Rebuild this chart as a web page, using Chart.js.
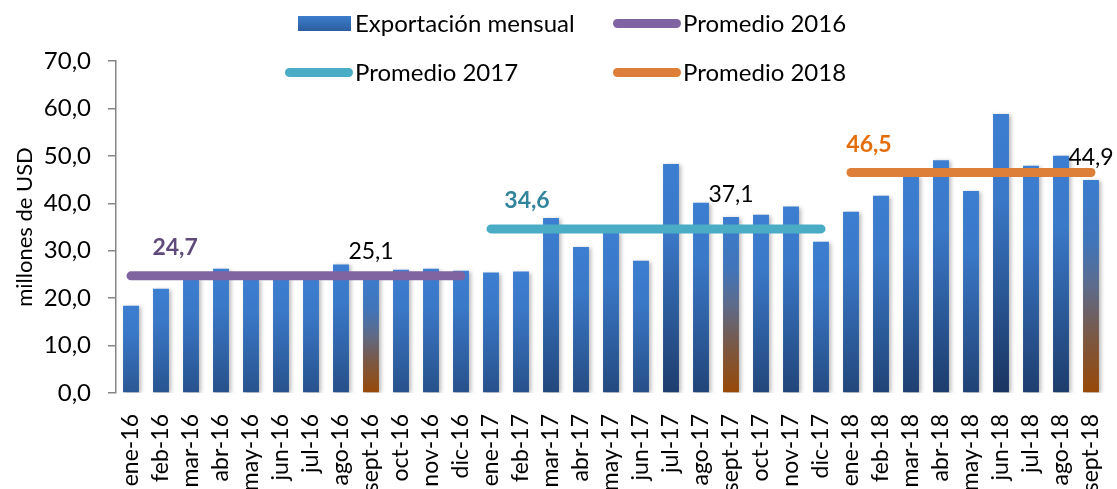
<!DOCTYPE html>
<html>
<head>
<meta charset="utf-8">
<script src="https://cdn.jsdelivr.net/npm/chart.js@4.4.1/dist/chart.umd.min.js"></script>
<style>
    body { margin: 0; background: #fff; }
    #wrap { position: relative; width: 1117px; height: 489px; font-family: Lato, sans-serif; }
    .item { position: absolute; display: flex; align-items: center; font-size: 24px; color: #000; line-height: 28px; height: 28px; white-space: nowrap; }
    .box { display: inline-block; width: 53px; height: 15px; margin-right: 4px; background: linear-gradient(#3c7dcd, #2c5d9f); }
    .ln { display: inline-block; width: 68px; height: 9px; border-radius: 5px; margin-right: 2px; }
</style>
</head>
<body>
<div id="wrap">
    <canvas id="chart" width="1117" height="489"></canvas>
    <div class="item" style="left:298px;top:9px"><span class="box"></span>Exportación mensual</div>
    <div class="item" style="left:613px;top:9px"><span class="ln" style="background:#8064a2"></span>Promedio 2016</div>
    <div class="item" style="left:285px;top:58px"><span class="ln" style="background:#4bacc6"></span>Promedio 2017</div>
    <div class="item" style="left:613px;top:58px"><span class="ln" style="background:#dd7f38"></span>Promedio 2018</div>
</div>
<script>
const months = [
    'ene-16', 'feb-16', 'mar-16', 'abr-16', 'may-16', 'jun-16', 'jul-16', 'ago-16', 'sept-16', 'oct-16', 'nov-16', 'dic-16',
    'ene-17', 'feb-17', 'mar-17', 'abr-17', 'may-17', 'jun-17', 'jul-17', 'ago-17', 'sept-17', 'oct-17', 'nov-17', 'dic-17',
    'ene-18', 'feb-18', 'mar-18', 'abr-18', 'may-18', 'jun-18', 'jul-18', 'ago-18', 'sept-18'
];
const exportValues = [
    18.4, 22.0, 24.3, 26.2, 24.0, 24.6, 24.2, 27.1, 25.1, 26.0, 26.2, 25.8,
    25.4, 25.6, 36.9, 30.8, 34.0, 27.9, 48.3, 40.1, 37.1, 37.6, 39.3, 31.9,
    38.2, 41.6, 45.8, 49.1, 42.6, 58.8, 47.9, 50.0, 44.9
];
const highlightMonths = ['sept-16', 'sept-17', 'sept-18'];
const avgYears = ['16', '17', '18'];
const avgNames = ['Promedio 2016', 'Promedio 2017', 'Promedio 2018'];
const avgValues = [24.7, 34.6, 46.5];
const yTicks = [0, 10, 20, 30, 40, 50, 60, 70];

// styles
const avgLineColors = ['#8064a2', '#4bacc6', '#dd7f38'];
const avgTextColors = ['#604a7b', '#31849b', '#e46c0a'];
const avgLabelIdx = [1.47, 13.2, 24.6]; // where the average text sits along the x scale
const FONT = 'Lato';

function fmt(v) {
    return v.toFixed(1).replace('.', ',');
}

function mix(a, b, t) {
    const pa = [1, 3, 5].map(i => parseInt(a.substr(i, 2), 16));
    const pb = [1, 3, 5].map(i => parseInt(b.substr(i, 2), 16));
    return 'rgb(' + pa.map((c, i) => Math.round(c + (pb[i] - c) * t)).join(',') + ')';
}

function barColor(context) {
    const chart = context.chart;
    if (!chart.chartArea) return '#3b7dd0';
    const v = context.raw;
    const y = chart.scales.y;
    const top = y.getPixelForValue(v);
    const bottom = y.getPixelForValue(0);
    const g = chart.ctx.createLinearGradient(0, top, 0, bottom);
    if (highlightMonths.includes(months[context.dataIndex])) {
        g.addColorStop(0, '#3b7dd0');
        g.addColorStop(0.3, '#4174b8');
        g.addColorStop(0.5, '#5d6b8b');
        g.addColorStop(0.75, '#7c5740');
        g.addColorStop(1, '#984806');
    } else {
        g.addColorStop(0, '#3c7ed1');
        g.addColorStop(0.3, '#3a78c8');
        g.addColorStop(1, mix('#3166ab', '#19335e', Math.min(1, v / 60)));
    }
    return g;
}

const lineSets = avgValues.map((avg, i) => ({
    type: 'line',
    label: avgNames[i],
    data: months.map(m => m.endsWith(avgYears[i]) ? avg : null),
    borderColor: avgLineColors[i],
    borderWidth: 9,
    borderCapStyle: 'round',
    pointRadius: 0,
    pointHoverRadius: 0,
    fill: false,
    order: 1
}));

const barShadow = {
    id: 'barShadow',
    beforeDatasetDraw(chart, args) {
        if (args.index !== 0) return;
        const ctx = chart.ctx;
        ctx.save();
        ctx.shadowColor = 'rgba(0,0,0,0.28)';
        ctx.shadowBlur = 4;
        ctx.shadowOffsetX = 2;
        ctx.shadowOffsetY = 1;
    },
    afterDatasetDraw(chart, args) {
        if (args.index === 0) chart.ctx.restore();
    }
};

const textLabels = {
    id: 'textLabels',
    afterDatasetsDraw(chart) {
        const ctx = chart.ctx;
        const x = chart.scales.x;
        const y = chart.scales.y;
        ctx.save();
        ctx.textAlign = 'center';
        ctx.textBaseline = 'middle';
        ctx.font = 'bold 23px ' + FONT;
        avgValues.forEach((avg, i) => {
            ctx.fillStyle = avgTextColors[i];
            ctx.fillText(fmt(avg), x.getPixelForValue(avgLabelIdx[i]), y.getPixelForValue(avg) - 28);
        });
        ctx.font = '23px ' + FONT;
        ctx.fillStyle = '#000';
        ctx.textBaseline = 'bottom';
        months.forEach((m, i) => {
            if (!highlightMonths.includes(m)) return;
            ctx.fillText(fmt(exportValues[i]), x.getPixelForValue(i), y.getPixelForValue(exportValues[i]) - 11);
        });
        ctx.restore();
    }
};

const ctx = document.getElementById('chart').getContext('2d');
new Chart(ctx, {
    data: {
        labels: months,
        datasets: [{
            type: 'bar',
            label: 'Exportación mensual',
            data: exportValues,
            backgroundColor: barColor,
            borderWidth: 0,
            categoryPercentage: 1,
            barPercentage: 0.53,
            order: 2
        }].concat(lineSets)
    },
    options: {
        responsive: false,
        animation: false,
        devicePixelRatio: 1,
        layout: { padding: { top: 61, right: 11, left: 0, bottom: 0 } },
        plugins: {
            legend: { display: false },
            tooltip: { enabled: false }
        },
        scales: {
            x: {
                grid: { display: false },
                border: { display: false },
                ticks: {
                    autoSkip: false,
                    maxRotation: 90,
                    minRotation: 90,
                    padding: 13,
                    color: '#000',
                    font: { family: FONT, size: 23 }
                },
                afterFit(scale) {
                    scale.height = 96;
                    scale.paddingLeft = 0;
                    scale.paddingRight = 0;
                }
            },
            y: {
                min: 0,
                max: 70,
                afterBuildTicks(scale) { scale.ticks = yTicks.map(v => ({ value: v })); },
                grid: { drawOnChartArea: false, drawTicks: true, tickLength: 8, color: '#868686', lineWidth: 1.5 },
                border: { display: true, color: '#868686', width: 1.5 },
                ticks: {
                    padding: 17,
                    color: '#000',
                    font: { family: FONT, size: 24 },
                    callback: v => fmt(v)
                },
                title: {
                    display: true,
                    text: 'millones de USD',
                    color: '#000',
                    font: { family: FONT, size: 22 },
                    padding: { top: 12, bottom: 0 }
                },
                afterFit(scale) { scale.width = 116; }
            }
        }
    },
    plugins: [barShadow, textLabels]
});
</script>
</body>
</html>
